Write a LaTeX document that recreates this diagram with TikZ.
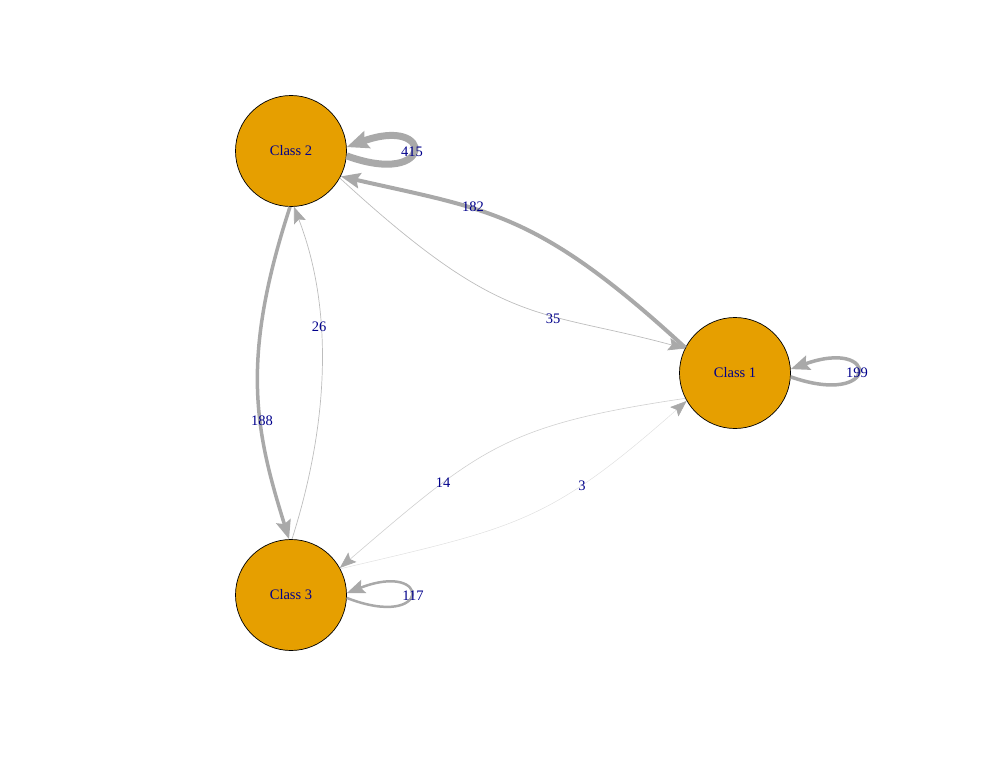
\documentclass[tikz,border=0pt]{standalone}
\usepackage{fontspec}
\setmainfont{Liberation Serif}
\usetikzlibrary{arrows.meta}
\definecolor{nodefill}{HTML}{E69F00}
\definecolor{edgegray}{HTML}{A9A9A9}
\definecolor{thingray}{HTML}{BDBDBD}
\definecolor{fainter}{HTML}{CFCFCF}
\definecolor{faintest}{HTML}{E0E0E0}
\definecolor{labblue}{HTML}{00008B}
\begin{document}
\begin{tikzpicture}[x=1pt,y=-1pt,
  state/.style={circle,draw=black,line width=0.7pt,fill=nodefill,minimum size=111pt,inner sep=0pt,text=labblue,font=\fontsize{14.5}{16}\selectfont},
  elabel/.style={text=labblue,font=\fontsize{14.5}{16}\selectfont,inner sep=0pt},
  trans/.style={draw=edgegray,-{Stealth[length=16pt 0.8,width=12pt 0.8,inset=3pt,color=edgegray]}}
]
\useasboundingbox (0,0) rectangle (990,765);
\node[state] (c2) at (291,151) {Class 2};
\node[state] (c1) at (735,373) {Class 1};
\node[state] (c3) at (291,595) {Class 3};

% loops
\draw[trans,line width=7pt] (c2.-5) .. controls (435,188) and (435,115) .. (c2.4);
\draw[trans,line width=3.5pt] (c1.-4) .. controls (880,408) and (880,337) .. (c1.4);
\draw[trans,line width=2.5pt] (c3.-3) .. controls (432,631) and (432,560) .. (c3.2);

% between classes
\draw[trans,line width=4pt] (c1.153) .. controls (537,211) and (488,210) .. (c2.-27);
\draw[trans,draw=thingray,line width=0.7pt] (c2.-29) .. controls (504,329) and (535,308) .. (c1.154);
\draw[trans,line width=3.5pt] (c2.269) .. controls (240,360) and (255,430) .. (c3.92);
\draw[trans,draw=thingray,line width=0.7pt] (c3.89) .. controls (333,410) and (330,300) .. (c2.-87);
\draw[trans,draw=fainter,line width=0.6pt] (c1.207) .. controls (505,425) and (480,448) .. (c3.29);
\draw[trans,draw=faintest,line width=0.5pt] (c3.28) .. controls (518,527) and (548,523) .. (c1.210);

% labels
\node[elabel] (l415) at (412,152) {415};
\node[elabel] (l199) at (857,373) {199};
\node[elabel] (l117) at (413,596) {117};
\node[elabel] (l182) at (473,207) {182};
\node[elabel] (l35) at (553,319) {35};
\node[elabel] (l188) at (262,421) {188};
\node[elabel] (l26) at (319,327) {26};
\node[elabel] (l14) at (443,483) {14};
\node[elabel] (l3) at (582,486) {3};
\end{tikzpicture}
\end{document}
